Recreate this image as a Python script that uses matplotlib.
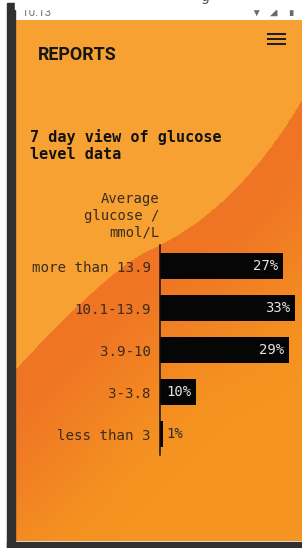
import numpy as np
import matplotlib
matplotlib.use("Agg")
import matplotlib.pyplot as plt
from matplotlib.patches import Rectangle

# ---------------- data ----------------
categories = ["more than 13.9", "10.1-13.9", "3.9-10", "3-3.8", "less than 3"]
percent_labels = ["27%", "33%", "29%", "10%", "1%"]
bar_lengths = [123, 135, 129, 36, 3]      # bar lengths as drawn (axis spans 0-142)
title_lines = ["7 day view of glucose", "level data"]
ylabel_lines = ["Average", "glucose /", "mmol/L"]
page_title = "REPORTS"
status_time = "10:13"

W, H = 302, 548
fig = plt.figure(figsize=(W / 100, H / 100), dpi=100)
fig.patch.set_facecolor("white")
bg = fig.add_axes([0, 0, 1, 1])
bg.set_xlim(0, W)
bg.set_ylim(H, 0)
bg.axis("off")

# ---------------- background with curved darker band ----------------
def qbez(p0, c, p1, n=160):
    t = np.linspace(0, 1, n)[:, None]
    return (1 - t) ** 2 * np.array(p0) + 2 * (1 - t) * t * np.array(c) + t ** 2 * np.array(p1)

ext1 = np.linspace([345, 69], [305, 95], 30)
seg1 = qbez((305, 95), (239, 210), (150, 250))
seg2 = qbez((150, 250), (107, 270), (8, 378))
ext2 = np.linspace([8, 378], [-30, 420], 30)
curve = np.vstack([ext1, seg1, seg2, ext2])

x0, x1, y0, y1 = 15, 302, 20, 541
xs = np.arange(x0, x1) + 0.5
ys = np.arange(y0, y1) + 0.5
X, Y = np.meshgrid(xs, ys)
order = np.argsort(curve[:, 0])
cy = np.interp(X, curve[order, 0], curve[order, 1])
D = np.full(X.shape, 1e9)
for p in curve[::2]:
    D = np.minimum(D, np.hypot(X - p[0], Y - p[1]))
signed = np.where(Y > cy, D, -D)

light = np.array([247, 161, 51]) / 255
dark = np.array([239, 116, 37]) / 255
base = np.array([245, 148, 32]) / 255
t = np.clip(D / 190.0, 0, 1)
t = t * t * (3 - 2 * t)
below = dark[None, None, :] * (1 - t[..., None]) + base[None, None, :] * t[..., None]
a = np.clip(signed + 0.5, 0, 1)[..., None]
img = light[None, None, :] * (1 - a) + below * a
bg.imshow(img, extent=(x0, x1, y1, y0), origin="upper", interpolation="bilinear",
          aspect="auto", zorder=0)
bg.set_xlim(0, W)
bg.set_ylim(H, 0)

# frame
bg.add_patch(Rectangle((7, 3.3), 8, H, color="#303030", zorder=1))
bg.add_patch(Rectangle((7, 541.5), W, 8, color="#303030", zorder=1))

# status bar
bg.text(22, 15.5, status_time, fontsize=8.5, color="#777777", va="baseline",
        ha="left", family="Roboto", zorder=2)
for sx, sym in [(253, "\u25BC"), (270, "\u25E2"), (288, "\u25AE")]:
    bg.text(sx, 15, sym, fontsize=7, color="#6a6a6a", va="baseline", ha="left",
            family="DejaVu Sans", zorder=2)
bg.add_patch(Rectangle((15, 0), W, 8.5, color="white", zorder=3))
bg.text(200, 1.5, "g", fontsize=10, color="#555555", va="baseline", ha="left", zorder=4)

# header
bg.text(38, 59.5, page_title, family="Roboto", fontweight="bold", fontsize=12.9,
        color="#161616", va="baseline", ha="left", zorder=2)
for yy in (34, 39, 44):
    bg.plot([267, 286], [yy, yy], color="#1e1e1e", lw=1.45, solid_capstyle="butt", zorder=2)

# chart title
for i, line in enumerate(title_lines):
    bg.text(29.5, 142 + 17 * i, line, family="DejaVu Sans Mono", fontweight="bold",
            fontsize=10.9, color="#111111", va="baseline", ha="left", zorder=2)

# y axis title
for i, line in enumerate(ylabel_lines):
    bg.text(159.5, 203 + 17 * i, line, family="DejaVu Sans Mono", fontsize=10,
            color="#3a2c1e", va="baseline", ha="right", zorder=2)

# ---------------- bar chart ----------------
ax = fig.add_axes([160 / W, 1 - 455 / H, 142 / W, 210 / H])
ax.patch.set_alpha(0)
ypos = np.arange(len(categories))
ax.barh(ypos, bar_lengths, height=0.64, color="#060606", zorder=2)
ax.set_xlim(0, 142)
ax.set_ylim(len(categories) - 0.5, -0.5)
for s in ("top", "right", "bottom"):
    ax.spines[s].set_visible(False)
ax.spines["left"].set_color("#111111")
ax.spines["left"].set_linewidth(1.1)
ax.spines["left"].set_zorder(3)
ax.set_xticks([])
ax.set_yticks(ypos)
ax.set_yticklabels(categories, family="DejaVu Sans Mono", fontsize=10.2, color="#3a2c1e")
ax.tick_params(axis="y", length=0, pad=6.5)

for i, (L, lab) in enumerate(zip(bar_lengths, percent_labels)):
    if L >= 30:
        ax.annotate(lab, (L, i), xytext=(-3.6, 0), textcoords="offset points",
                    ha="right", va="center", color="#e4e4e4", fontsize=10,
                    family="DejaVu Sans Mono", zorder=4)
    else:
        ax.annotate(lab, (L, i), xytext=(2.2, 0), textcoords="offset points",
                    ha="left", va="center", color="#2a2a2a", fontsize=10,
                    family="DejaVu Sans Mono", zorder=4)

fig.savefig("out.png", dpi=100, facecolor="white")
